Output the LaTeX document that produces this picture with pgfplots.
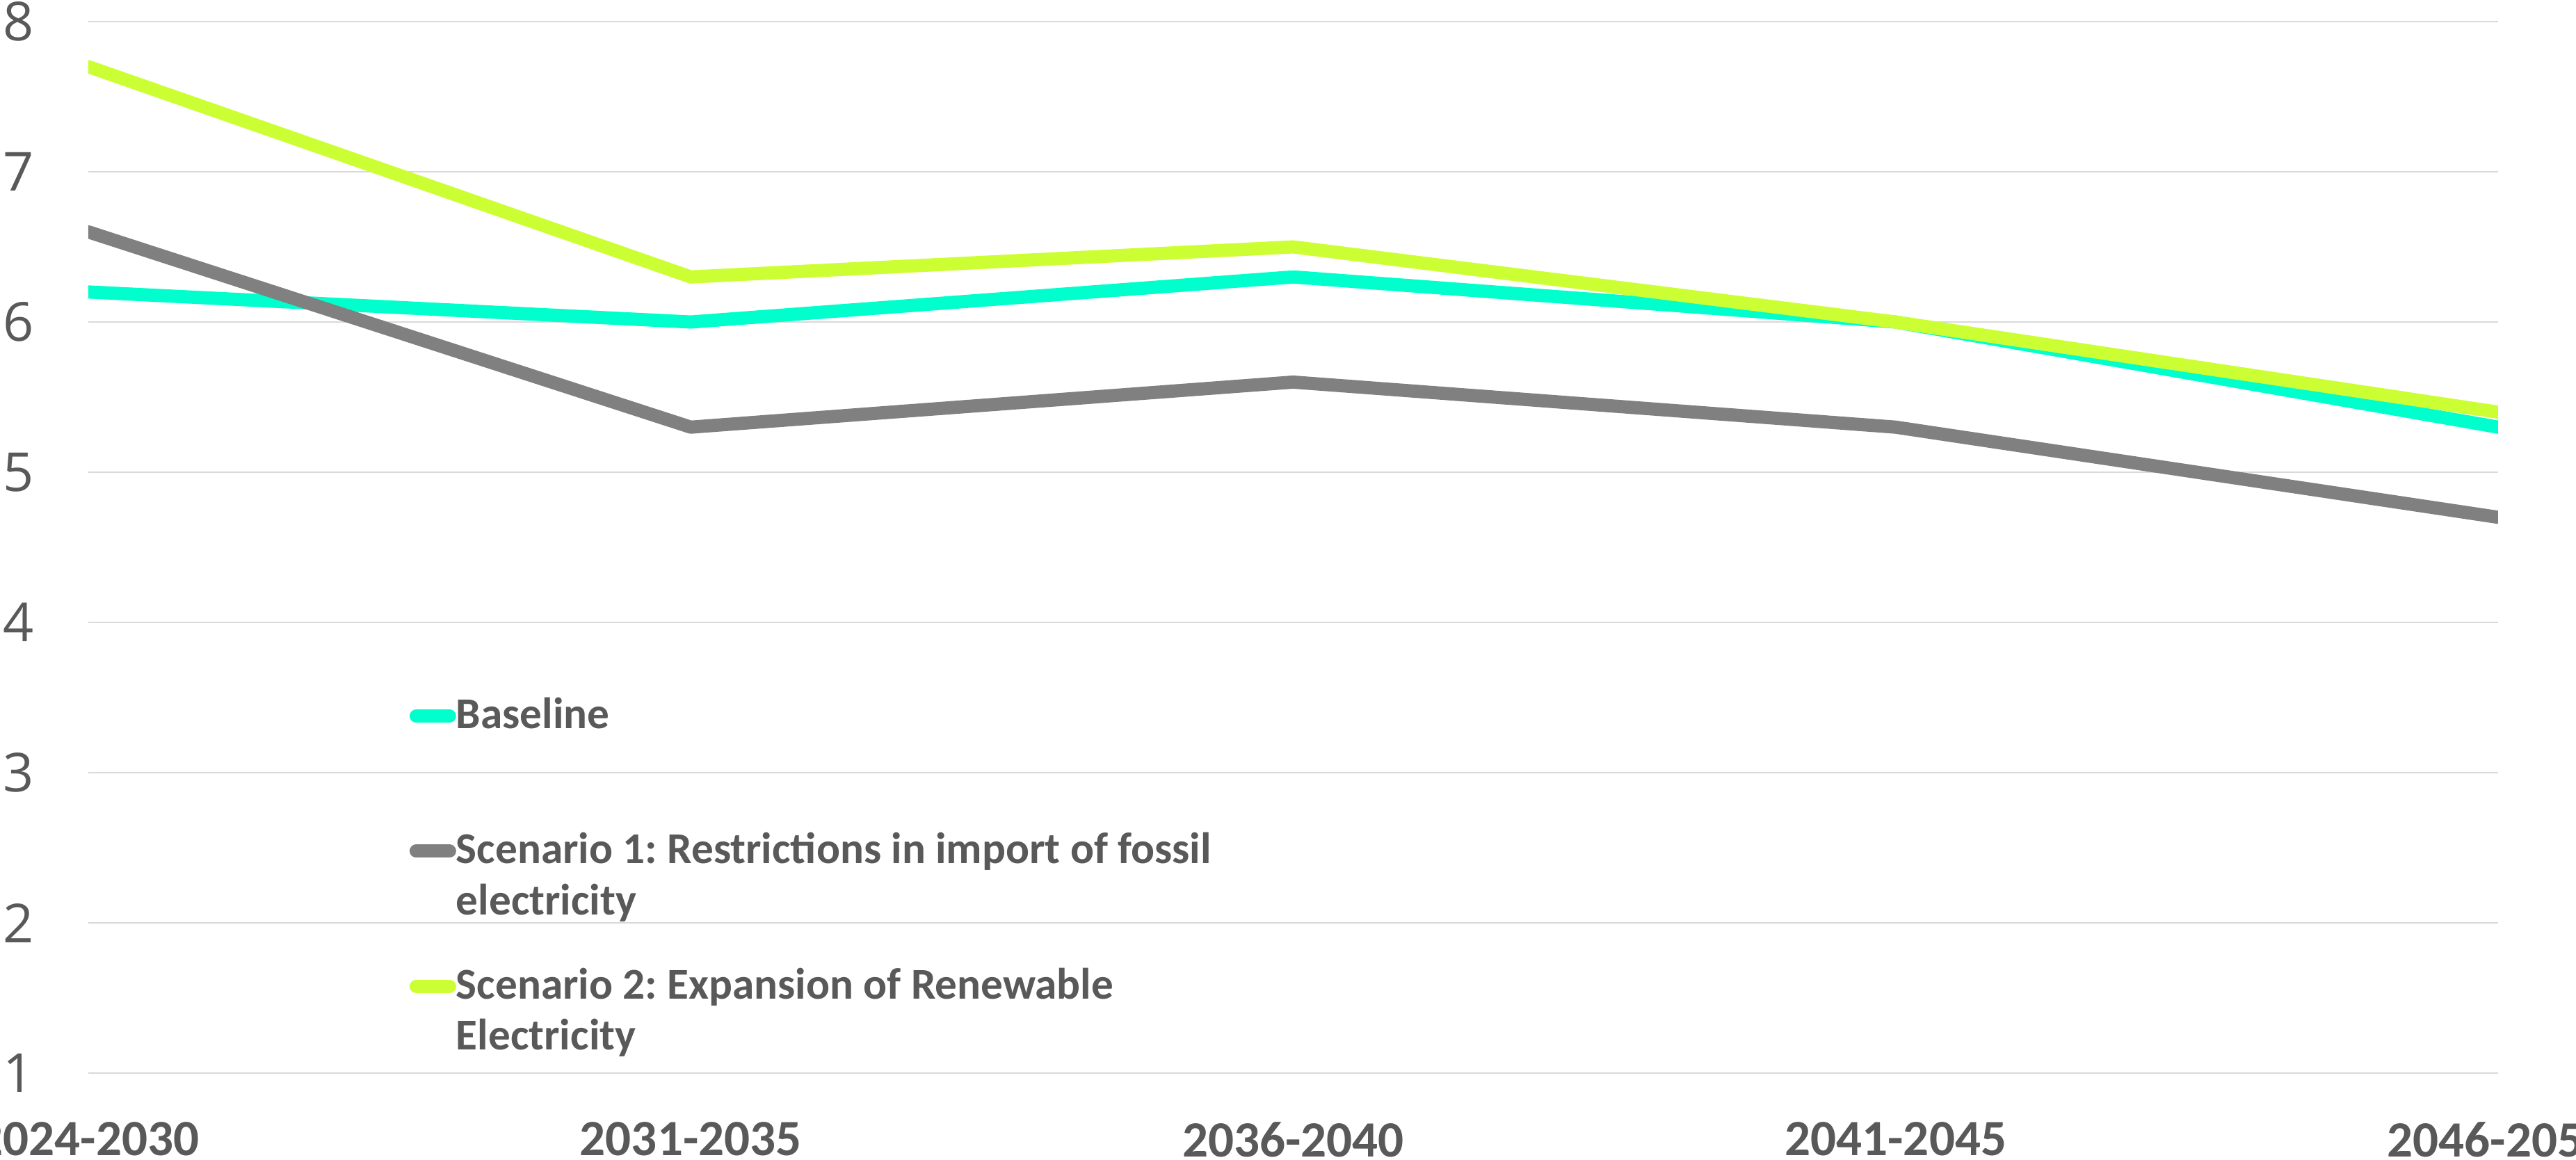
\documentclass[border=0pt]{standalone}
\usepackage{fontspec}
\setmainfont{Carlito}
\newfontfamily\opensans{Open Sans}
\usepackage{pgfplots}
\pgfplotsset{compat=1.18}
\definecolor{basecol}{HTML}{00FFCC}
\definecolor{scenone}{HTML}{808080}
\definecolor{scentwo}{HTML}{CCFF33}
\definecolor{txtgray}{HTML}{595959}
\definecolor{gridgray}{HTML}{D9D9D9}
\frenchspacing
\begin{document}
\begin{tikzpicture}
\begin{axis}[
  at={(0,0)}, anchor=south west,
  scale only axis,
  width=173.25mm, height=75.6mm,
  xmin=0, xmax=4, ymin=1, ymax=8,
  xtick={0,1,2,3,4},
  xticklabels={2024-2030,2031-2035,2036-2040,2041-2045,2046-2050},
  ytick={1,2,3,4,5,6,7,8},
  axis line style={draw=none},
  major tick length=0pt,
  ymajorgrids,
  grid style={color=gridgray, line width=0.3pt},
  /pgf/number format/assume math mode=true,
  yticklabel style={font=\opensans\fontsize{11}{13}\selectfont, text=txtgray, anchor=east, inner sep=0pt, xshift=-3.85mm},
  xticklabel style={font=\bfseries\fontsize{10.4}{12}\selectfont, text=txtgray, anchor=north, inner sep=0pt, yshift=-3.45mm},
  legend image code/.code={\draw[#1, line cap=round] (0mm,0.9mm) -- (2.4mm,0.9mm);},
  legend style={at={(0.1329,0.3624)}, anchor=north west, draw=none, fill=none, inner sep=0pt,
    font=\bfseries\fontsize{9}{10.4}\selectfont\frenchspacing, text=txtgray,
    nodes={inner sep=0pt}, cells={anchor=base west}, column sep=0pt, row sep=18.86pt},
  every axis plot/.append style={line width=2.7pt, line join=round, line cap=round},
]
\addplot[color=basecol] coordinates {(0,6.2) (1,6.0) (2,6.3) (3,6.0) (4,5.3)};
\addlegendentry{\begin{tabular}[t]{@{}l@{}}Baseline\\ ~\end{tabular}}
\addplot[color=scenone] coordinates {(0,6.6) (1,5.3) (2,5.6) (3,5.3) (4,4.7)};
\addlegendentry{\begin{tabular}[t]{@{}l@{}}Scenario 1: Restrictions in import of fossil\\electricity\end{tabular}}
\addplot[color=scentwo] coordinates {(0,7.7) (1,6.3) (2,6.5) (3,6.0) (4,5.4)};
\addlegendentry{\begin{tabular}[t]{@{}l@{}}Scenario 2: Expansion of Renewable\\Electricity\end{tabular}}
\end{axis}
\pgfresetboundingbox
\useasboundingbox (-6.35mm,-6.25mm) rectangle (178.85mm,77.15mm);
\end{tikzpicture}
\end{document}
